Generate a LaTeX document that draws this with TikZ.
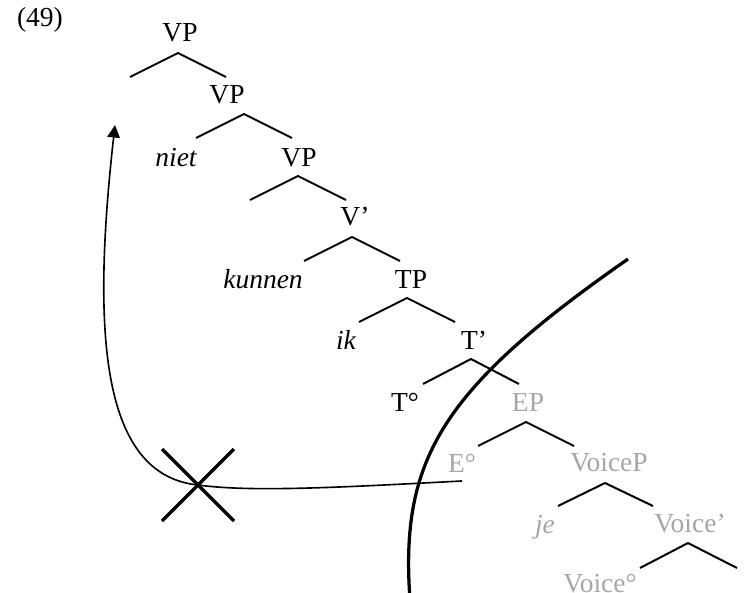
\documentclass[tikz,border=0pt]{standalone}
\usepackage{fontspec}
\setmainfont{Liberation Serif}
\usetikzlibrary{arrows.meta}

\tikzset{
  branch/.style={line width=0.8pt},
  faded/.style={text=black!35},
  leaf/.style={font=\fontsize{11}{13}\selectfont\itshape},
  boundary/.style={line width=1.3pt},
}

\begin{document}
\begin{tikzpicture}[x=0.4pt,y=-0.4pt,every node/.style={font=\fontsize{11}{13}\selectfont}]
  \useasboundingbox (0,0) rectangle (747,593);
  \clip (0,0) rectangle (747,593);

  \node (ex) at (40,20) {(49)};
  \node (vpa) at (180,33) {VP};
  \node (vpb) at (227,95) {VP};
  \node[leaf] (niet) at (176,158) {niet};
  \node (vpc) at (299,158) {VP};
  \node (vbar) at (355,217) {V’};
  \node[leaf] (kunnen) at (263,279) {kunnen};
  \node (tp) at (411,279) {TP};
  \node[leaf] (ik) at (346,340) {ik};
  \node (tbar) at (474,340) {T’};
  \node (thead) at (405,402) {T°};
  \node[faded] (ep) at (528,402) {EP};
  \node[faded] (ehead) at (462,463) {E°};
  \node[faded] (voicep) at (609,463) {VoiceP};
  \node[faded,leaf] (je) at (545,527) {je};
  \node[faded] (voicebar) at (690,524) {Voice’};
  \node[faded] (voicehead) at (600,584) {Voice°};

  \draw[branch] (vpa.center) ++(-2,20) +(-48,24) -- +(0,0) -- +(48,24);
  \draw[branch] (vpb.center) ++(17,19) +(-48,24) -- +(0,0) -- +(48,24);
  \draw[branch] (vpc.center) ++(-1,18) +(-48,24) -- +(0,0) -- +(48,24);
  \draw[branch] (vbar.center) ++(-3,20) +(-48,24) -- +(0,0) -- +(48,24);
  \draw[branch] (tp.center) ++(-4,19) +(-48,24) -- +(0,0) -- +(48,24);
  \draw[branch] (tbar.center) ++(-3,19) +(-48,25) -- +(0,0) -- +(48,25);
  \draw[branch] (ep.center) ++(-2,20) +(-48,24) -- +(0,0) -- +(48,24);
  \draw[branch] (voicep.center) ++(-4,20) +(-47,23) -- +(0,0) -- +(48,23);
  \draw[branch] (voicebar.center) ++(-2,19) +(-48,25) -- +(0,0) -- +(49,25);

  \coordinate (blocked) at (198,485);
  \coordinate (target) at (115,125);

  \draw[boundary] (628,259) .. controls (440,390) and (400,460) .. (410,600);

  \draw[line width=0.65pt,-{Triangle[length=5pt,width=5pt]}] (ehead.south) .. controls (330,488) and (250,492) .. (blocked) .. controls (100,475) and (92,330) .. (target);
  \draw[boundary] (blocked) +(-36,-36) -- +(36,36) (blocked) +(36,-36) -- +(-36,36);
\end{tikzpicture}
\end{document}
